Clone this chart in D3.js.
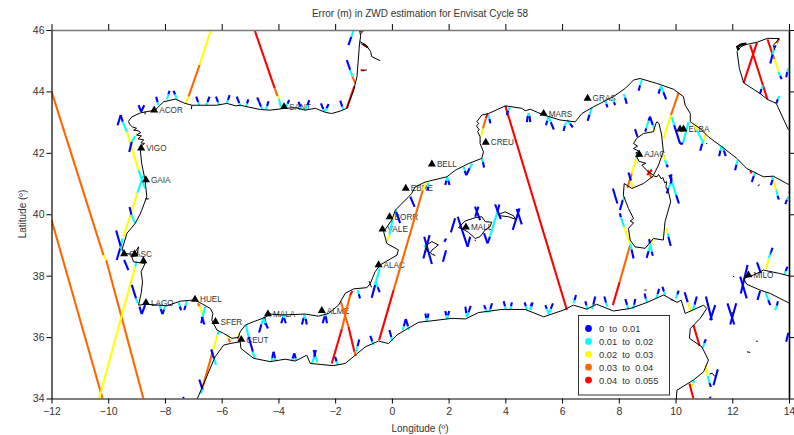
<!DOCTYPE html>
<html>
<head>
<meta charset="utf-8">
<script src="https://cdn.jsdelivr.net/npm/d3@7"></script>
<style>
    html, body { margin: 0; padding: 0; background: #fff; }
    svg { display: block; }
    text { font-family: "Liberation Sans", Arial, sans-serif; fill: #333; }
</style>
</head>
<body>
<div id="chart"></div>
<script>
// axis ticks
var lonTicks = [-12, -10, -8, -6, -4, -2, 0, 2, 4, 6, 8, 10, 12, 14];
var latTicks = [34, 36, 38, 40, 42, 44, 46];

// error classes of the legend
var classLabels = ["0  to  0.01", "0.01  to  0.02", "0.02  to  0.03", "0.03  to  0.04", "0.04  to  0.055"];
var classColors = ["#0000ff", "#00ffff", "#ffff00", "#ff6600", "#ff0000"];

// coastlines, [lon, lat]
var coastAtlantic = [[-1.14,46],[-1.1,45.8],[-1.14,45.57],[-1.23,44.48],[-1.35,44.04],[-1.59,43.45],[-1.82,43.36],[-2.12,43.28],[-2.35,43.32],[-2.7,43.45],[-3.06,43.39],[-3.4,43.47],[-3.76,43.45],[-4.29,43.39],[-4.64,43.41],[-5.35,43.55],[-5.5,43.53],[-5.82,43.61],[-6.17,43.55],[-7.05,43.55],[-7.29,43.61],[-7.64,43.75],[-8.05,43.66],[-8.35,43.39],[-8.87,43.3],[-9.17,43.17],[-9.29,43.02],[-9.22,42.9],[-9.14,42.84],[-9.0,42.8],[-9.1,42.74],[-8.95,42.72],[-8.85,42.66],[-9.0,42.58],[-8.83,42.55],[-8.95,42.46],[-8.75,42.42],[-8.85,42.33],[-8.72,42.3],[-8.88,42.2],[-8.87,42.1],[-8.82,41.65],[-8.7,41.11],[-8.64,40.57],[-8.82,40.13],[-8.88,40.0],[-9.05,39.7],[-9.34,39.38],[-9.5,38.89],[-9.46,38.73],[-9.11,38.69],[-8.93,38.94],[-8.99,38.67],[-9.17,38.62],[-9.11,38.45],[-8.7,38.4],[-8.84,38.13],[-8.79,37.8],[-8.84,37.42],[-8.93,37.04],[-8.64,37.07],[-7.93,37.02],[-7.46,37.17],[-6.94,37.21],[-6.4,36.93],[-6.31,36.77],[-6.35,36.55],[-6.17,36.23],[-5.93,36.12],[-5.64,35.96],[-5.41,35.99],[-5.35,36.17],[-5.17,36.39],[-4.88,36.5],[-4.47,36.64],[-4.29,36.75],[-3.88,36.72],[-3.06,36.75],[-2.59,36.68],[-2.23,36.77],[-1.88,37.04],[-1.65,37.42],[-1.35,37.57],[-0.88,37.61],[-0.76,37.75],[-0.59,38.13],[-0.41,38.35],[0.18,38.67],[0.23,38.84],[-0.18,39.05],[-0.29,39.43],[0,39.82],[0.12,40.13],[0.59,40.57],[0.7,40.68],[0.82,40.89],[1.18,41.05],[1.94,41.22],[2.23,41.43],[2.7,41.65],[3.17,41.82],[3.23,42.03],[3.11,42.3],[3.11,42.52],[3.02,42.7],[3.08,42.75],[2.98,42.88],[3.06,42.95],[3.0,43.02],[3.17,43.23],[3.41,43.28],[4.0,43.53],[4.58,43.45],[4.7,43.37],[4.88,43.42],[5.35,43.23],[5.93,43.07],[6.46,43.01],[6.7,43.28],[7.11,43.5],[7.81,43.83],[8.23,44.1],[8.52,44.37],[8.75,44.42],[9.34,44.26],[9.93,44.07],[10.28,43.83],[10.34,43.55],[10.52,43.28],[10.52,43.01],[10.87,42.79],[11.16,42.52],[11.63,42.2],[12.16,41.82],[12.51,41.49],[13.1,41.22],[13.45,41.24],[13.92,41.0],[14.05,40.95]];
var coastAfrica = [[-6.87,33.97],[-6.23,35.36],[-5.93,35.74],[-5.7,35.79],[-5.35,35.85],[-5.32,35.63],[-4.88,35.31],[-4.29,35.2],[-3.76,35.28],[-3.41,35.22],[-3.0,35.41],[-2.88,35.14],[-2.53,35.11],[-2.06,35.07],[-1.65,35.14],[-1.29,35.41],[-0.94,35.68],[-0.47,35.87],[-0.12,35.79],[0.18,36.07],[0.47,36.23],[0.94,36.48],[1.41,36.53],[2.12,36.61],[2.59,36.59],[3.06,36.8],[3.88,36.9],[4.7,36.9],[5.35,36.66],[6.05,36.88],[6.4,37.04],[6.87,36.91],[7.22,37.07],[7.81,36.85],[8.4,36.93],[9.0,37.13],[9.58,37.37],[10.05,37.13],[10.2,37.2],[10.34,36.77],[10.99,37.04],[11.1,36.93],[10.87,36.61],[10.52,36.28],[10.49,35.96],[10.93,35.68],[11.16,35.25],[10.99,34.87],[10.63,34.6],[10.05,34.27],[10.02,33.9]];
var coastAdriatic = [[13.55,43.61],[13.24,43.74],[12.98,43.93],[12.4,44.28],[12.25,44.75],[12.17,45.3],[12.3,45.45],[12.45,45.52],[12.87,45.6],[13.24,45.73],[13.65,45.72],[13.45,45.5],[13.5,45.35]];
var coastVenice = [[12.22,45.35],[12.18,45.45],[12.32,45.53],[12.5,45.55]];
var coastMarche = [[13.55,43.61],[13.98,42.75]];
var coastSicily = [[14.02,37.99],[13.63,38.08],[13.1,38.18],[12.75,38.02],[12.4,37.91],[12.51,37.72],[12.98,37.53],[13.34,37.42],[14.02,37.1]];
var coastGironde = [[-1.12,45.62],[-0.9,45.5],[-0.75,45.3],[-0.71,45.13],[-0.41,45.0]];
var coastGironde2 = [[-1.1,45.56],[-0.85,45.42]];
var coastCorsica = [[9.34,43.01],[9.42,42.95],[9.51,42.58],[9.57,42.04],[9.4,41.6],[9.22,41.27],[9.04,41.38],[8.81,41.6],[8.95,41.66],[8.72,41.72],[8.63,41.87],[8.82,41.92],[8.6,42.0],[8.72,42.05],[8.52,42.14],[8.66,42.22],[8.52,42.3],[8.63,42.47],[8.87,42.63],[9.22,42.69],[9.31,42.96],[9.34,43.01]];
var coastSardinia = [[9.22,41.25],[9.35,41.22],[9.4,41.3],[9.5,41.15],[9.55,41.2],[9.62,41.02],[9.69,41.06],[9.66,40.9],[9.75,40.73],[9.83,40.41],[9.63,39.76],[9.57,39.16],[9.22,39.21],[8.93,38.89],[8.57,38.94],[8.4,39.16],[8.34,39.54],[8.52,39.72],[8.4,39.78],[8.52,39.86],[8.34,40.19],[8.16,40.62],[8.19,41.0],[8.46,40.84],[8.87,41.0],[9.22,41.25]];
var coastMallorca = [[2.35,39.56],[2.58,39.78],[2.94,39.89],[3.17,39.92],[3.29,39.76],[3.52,39.74],[3.46,39.6],[3.29,39.49],[3.11,39.27],[2.94,39.21],[2.7,39.41],[2.46,39.54],[2.35,39.56]];
var coastMenorca = [[3.76,39.99],[3.99,40.08],[4.29,39.95],[4.35,39.84],[4.11,39.92],[3.82,39.95],[3.76,39.99]];
var coastIbiza = [[1.23,39.0],[1.41,39.11],[1.64,39.0],[1.41,38.83],[1.35,38.73],[1.23,38.83],[1.23,39.0]];
var coastFormentera = [[1.38,38.72],[1.53,38.65]];
var coastKerkennah = [[11.2,34.8],[11.3,34.82],[11.38,34.72]];
var coastLagoon = [[-1.14,45.95],[-1.0,45.98],[-1.1,45.87]];
var coastSmall = [[[2.92,39.15],[2.96,39.15]],[[-1.02,44.68],[-0.88,44.7]],[[11.97,36.79],[12.02,36.8]],[[12.52,35.52],[12.63,35.5]],[[12.84,35.87],[12.9,35.86]],[[12.02,37.99],[12.07,37.96]],[[8.9,37.53],[8.98,37.53]],[[9.82,37.22],[9.92,37.2]],[[13.32,38.73],[13.37,38.7]],[[11.08,42.31],[11.12,42.3]],[[12.9,40.93],[12.97,40.96]],[[13.98,40.72],[14.05,40.72]],[[-7.05,43.55],[-7.07,43.42]],[[-8.7,40.5],[-8.56,40.5]],[[-8.7,43.35],[-8.7,43.25]],[[-0.8,37.82],[-0.72,37.62]]];

// satellite track stretches with a colour class: [class, lon1, lat1, lon2, lat2]
var trackLong = [
    [3,-12,44,-10.17,38.67],[2,-10.17,38.67,-10.07,38.5],[3,-10.07,38.5,-8.76,34],
    [3,-12,39.82,-10.2,34],
    [2,-10.32,34,-9.05,38.3],[1,-9.05,38.3,-9.0,38.46],
    [2,-6.38,46,-6.78,44.86],[3,-6.78,44.86,-7.17,43.83],[2,-7.17,43.83,-7.28,43.59],
    [4,-4.84,46,-4.13,44.1],[3,-4.13,44.1,-4.03,43.85],[2,-4.03,43.85,-3.98,43.75],[1,-3.98,43.75,-3.92,43.5],
    [4,-2.12,35.14,-1.76,36.28],[3,-1.76,36.28,-1.47,37.37],[4,-1.47,37.37,-1.39,37.5],
    [3,-1.8,37.15,-1.53,36.34],[4,-1.53,36.34,-1.32,35.52],[3,-1.32,35.52,-1.27,35.39],
    [4,-0.45,35.9,0.06,37.53],[3,0.06,37.53,1.09,40.78],[2,1.09,40.78,1.21,41.05],
    [2,3.14,42.52,3.21,42.79],[3,3.21,42.79,3.31,43.12],[4,3.31,43.12,3.38,43.28],
    [4,4.0,43.53,6.17,36.88],
    [4,7.79,37.04,8.03,37.8],[3,8.03,37.8,8.4,39.0],
    [3,8.3,40.86,8.46,41.33],[2,8.46,41.33,8.61,41.82],[1,8.61,41.82,8.69,42.09],
    [2,9.58,42.47,9.84,43.23],[3,9.84,43.23,10.11,43.96],
    [4,12.4,44.28,12.87,45.59],[4,12.63,45.51,13.24,43.74],
    [4,13.24,45.7,13.43,45.18],[3,13.43,45.18,13.49,45.05],[2,13.49,45.05,13.63,44.64],[1,13.63,44.64,13.69,44.5],[0,13.69,44.5,13.74,44.4],
    [3,13.57,45.57,13.62,45.66],[4,13.62,45.66,13.65,45.73],
    [4,10.63,36.39,10.85,35.71],[4,10.49,34.49,10.63,34],
    [4,-1.59,43.45,-1.32,44.17],
    [4,-1.02,45.55,-0.85,45.43],[4,-1.1,44.7,-0.98,44.68]
];
var trackCoastal = [
    [0,-9.56,43.23,-9.49,43.01],[1,-9.49,43.01,-9.34,42.68],[2,-9.34,42.68,-8.93,41.43],[1,-8.93,41.43,-8.7,40.84],
    [0,-9.67,42.9,-9.56,43.23],
    [0,-9.26,42.03,-9.17,42.36],[1,-9.17,42.36,-9.05,42.54],
    [2,-9.46,39.27,-8.97,40.7],[1,-8.97,40.7,-8.76,41.25],
    [0,-9.7,38.51,-9.58,38.89],[1,-9.58,38.89,-9.49,39.22],
    [0,-9.25,40.24,-9.18,39.98],[1,-9.18,39.98,-9.05,39.7],
    [0,-9.72,39.47,-9.56,38.95],[1,-9.56,38.95,-9.46,38.75],[0,-9.44,38.51,-9.29,38.18],
    [0,-9.17,37.7,-9.02,37.26],[1,-9.02,37.26,-8.96,37.1],
    [3,-6.84,37.1,-6.78,37.0],[2,-6.78,37.0,-6.67,36.72],[0,-6.7,36.66,-6.61,36.41],
    [0,-6.72,36.45,-6.67,36.66],[1,-6.67,36.66,-6.58,36.99],
    [1,-6.1,36.2,-6.15,36.07],[2,-6.15,36.07,-6.32,35.52],[3,-6.32,35.52,-6.7,34.27],[1,-6.7,34.27,-6.74,34.15],
    [0,-6.79,34.62,-6.68,34.3],[1,-6.68,34.3,-6.64,34.27],
    [0,-6.37,35.6,-6.27,35.3],[1,-6.27,35.3,-6.2,35.09],
    [2,-5.8,36.04,-5.76,35.95],[3,-5.76,35.95,-5.7,35.83],
    [3,-5.44,35.93,-5.41,36.03],[2,-5.41,36.03,-5.38,36.12],
    [1,-5.15,36.39,-5.05,36.01],[0,-5.05,36.01,-4.9,35.52],[1,-4.9,35.52,-4.84,35.3],
    [0,-1.59,45.02,-1.47,44.7],[1,-1.47,44.7,-1.39,44.48],[3,-1.39,44.48,-1.29,44.26],
    [0,-1.53,45.51,-1.43,45.78],[1,-1.43,45.78,-1.35,45.98],
    [0,-0.71,37.28,-0.59,37.7],[1,-0.59,37.7,-0.43,38.24],
    [2,-0.18,39.11,-0.09,39.33],[1,-0.09,39.33,0.02,39.82],[2,0.02,39.82,0.09,40.0],[1,0.09,40.0,0.15,40.15],
    [0,0.15,40.08,0.29,39.71],
    [0,8.04,40.14,8.14,40.46],[1,8.14,40.46,8.22,40.57],
    [0,8.04,40.03,8.07,39.9],[1,8.07,39.9,8.19,39.59],[2,8.19,39.59,8.4,39.05],[1,8.4,39.05,8.45,38.85],[0,8.45,38.85,8.52,38.56],
    [0,8.34,41.36,8.43,41.09],[2,8.43,41.09,8.51,40.84],
    [0,8.93,42.69,8.97,42.8],[1,8.97,42.8,9.05,43.05],[0,9.05,43.05,9.1,43.18],[0,9.1,43.18,9.2,42.9],[1,9.2,42.9,9.25,42.78],[2,9.25,42.78,9.28,42.71],
    [3,9.02,41.44,9.16,41.17],[4,9.0,41.28,9.17,41.45],
    [2,9.54,41.98,9.63,41.76],[1,9.63,41.76,9.68,41.62],[0,9.68,41.62,9.73,41.53],
    [0,9.78,41.28,9.87,41.06],[1,9.87,41.06,10.02,40.62],[0,10.02,40.62,10.12,40.35],
    [0,9.69,40.68,9.75,40.85],[1,9.75,40.85,9.83,41.0],[0,9.83,41.0,9.86,41.2],
    [2,9.67,39.54,9.72,39.37],[1,9.72,39.37,9.75,39.27],[0,9.75,39.27,9.83,38.97],
    [0,8.98,38.58,9.05,38.8],[1,9.05,38.8,9.1,38.94],[2,9.1,38.94,9.2,39.21],
    [0,9.07,39.19,9.1,39.05],[1,9.1,39.05,9.16,38.78],[0,9.16,38.78,9.2,38.65],
    [2,10.66,42.96,10.75,42.74],[1,10.75,42.74,10.99,42.3],[0,10.87,42.07,10.94,42.3],[1,10.94,42.3,10.99,42.41],[2,10.99,42.41,11.08,42.63],
    [1,10.26,42.3,10.46,43.01],
    [4,12.63,41.43,12.68,41.33],[0,12.69,41.05,12.76,41.25],[1,12.76,41.25,12.81,41.38],
    [2,13.4,41.24,13.55,40.78],[1,13.55,40.78,13.6,40.6],[0,13.6,40.6,13.64,40.48],
    [0,13.36,40.95,13.42,41.12],[1,13.42,41.12,13.43,41.22],
    [0,10.32,37.46,10.43,37.13],[2,10.43,37.13,10.54,36.8],
    [2,13.2,38.22,13.28,38.57],[1,13.28,38.57,13.36,38.75],[0,13.36,38.75,13.42,38.91],
    [1,13.18,37.46,13.27,37.2],[0,13.27,37.2,13.34,37.04],
    [2,11.05,35.09,11.13,34.73],[1,11.13,34.73,11.2,34.5],[0,11.2,34.5,11.25,34.38],
    [2,10.58,34.38,10.62,34.5],[1,10.62,34.5,10.66,34.6],
    [1,1.14,39.0,1.26,38.78],
    [0,3.25,39.38,3.37,39.05],[0,3.37,39.05,3.46,39.27],[1,3.46,39.27,3.72,40.08],[0,3.72,40.08,3.79,40.32],
    [0,-2.76,35.58,-2.7,35.38],[1,-2.7,35.38,-2.63,35.18],[2,-2.63,35.18,-2.61,35.14],
    [2,-2.88,35.18,-2.82,35.14],[1,-2.82,35.14,-2.74,35.35],[0,-2.74,35.35,-2.68,35.58]
];
// short passes near the coast, blue with a cyan end: [lon1, lat1, lonMid, latMid, lon2, lat2]
var trackStubs = [
    [-6.9,43.83,-6.83,43.65,-6.79,43.55],[-6.43,43.83,-6.5,43.65,-6.55,43.55],[-6.2,43.83,-6.13,43.65,-6.09,43.55],
    [-5.72,43.88,-5.78,43.72,-5.82,43.61],[-5.47,43.83,-5.38,43.62,-5.33,43.52],[-5.06,43.74,-5.11,43.6,-5.15,43.5],
    [-4.68,43.66,-4.61,43.5,-4.56,43.42],[-4.35,43.68,-4.4,43.52,-4.44,43.42],
    [-8.31,43.83,-8.26,43.65,-8.23,43.55],[-7.84,44.02,-7.88,43.9,-7.93,43.74],[-7.7,44.02,-7.64,43.9,-7.58,43.74],
    [-3.62,43.72,-3.68,43.6,-3.74,43.48],[-3.29,43.66,-3.22,43.5,-3.17,43.41],[-2.91,43.72,-2.98,43.55,-3.06,43.39],
    [-2.5,43.61,-2.42,43.42,-2.37,43.34],[-2.23,43.59,-2.3,43.45,-2.37,43.34],[-1.82,43.7,-1.75,43.5,-1.7,43.41],
    [-8.09,36.75,-8.15,36.92,-8.19,37.04],[-7.43,36.88,-7.48,37.0,-7.52,37.13],[-7.32,36.88,-7.27,37.03,-7.23,37.17],
    [-8.09,36.75,-8.03,36.9,-7.99,37.02],[-4.68,36.15,-4.6,36.42,-4.53,36.61],[-4.37,36.28,-4.45,36.45,-4.53,36.61],
    [-3.9,36.45,-3.83,36.65,-3.78,36.72],[-3.74,36.45,-3.8,36.62,-3.85,36.72],[-3.17,36.41,-3.11,36.62,-3.08,36.72],[-3.0,36.41,-3.04,36.6,-3.09,36.72],
    [-2.44,36.45,-2.37,36.68,-2.33,36.77],[-2.29,36.45,-2.33,36.68,-2.37,36.77],[-1.12,37.26,-1.17,37.4,-1.2,37.53],
    [-0.43,37.46,-0.5,37.63,-0.59,37.8],[1.26,40.78,1.27,40.9,1.29,41.02],[1.88,40.95,1.92,41.1,1.95,41.22],[2.03,40.95,1.99,41.1,1.95,41.22],
    [2.62,41.27,2.57,41.42,2.53,41.54],[2.62,41.27,2.74,41.5,2.84,41.65],[3.25,41.52,3.21,41.7,3.17,41.82],
    [3.47,42.96,3.44,43.1,3.41,43.23],[4.05,43.23,4.1,43.38,4.17,43.48],[4.76,43.0,4.79,43.2,4.82,43.3],[4.88,43.0,4.85,43.2,4.82,43.3],
    [5.43,42.9,5.48,43.05,5.52,43.17],[5.71,42.76,5.6,43.0,5.52,43.17],[6.05,42.71,6.1,42.88,6.14,42.99],[6.38,42.83,6.28,42.95,6.17,43.07],
    [6.9,43.04,6.97,43.25,7.05,43.48],[7.6,43.48,7.56,43.6,7.52,43.7],[7.87,43.55,7.83,43.65,7.79,43.75],[8.28,43.6,8.22,43.8,8.17,43.91],
    [8.7,44.02,8.75,44.2,8.81,44.37],[9.4,43.93,9.45,44.08,9.49,44.17],[9.67,43.74,9.57,43.98,9.49,44.17],
    [10.16,42.3,9.95,42.9,9.87,43.17],[11.54,41.89,11.58,42.08,11.63,42.23],[11.77,41.89,11.7,42.08,11.63,42.23],
    [12.1,41.43,12.15,41.62,12.19,41.76],[13.87,40.33,13.93,40.48,13.98,40.57],[13.34,44.91,13.42,45.2,13.49,45.42],
    [13.9,44.46,13.94,44.63,13.98,44.75],[12.98,43.93,13.03,44.08,13.08,44.2],[13.55,43.61,13.61,43.75,13.67,43.85],
    [4.93,37.1,4.9,37.0,4.88,36.88],[5.41,37.04,5.46,36.92,5.53,36.75],[5.68,37.1,5.6,36.92,5.53,36.75],
    [6.49,37.37,6.44,37.2,6.4,37.1],[6.82,37.17,6.86,37.03,6.9,36.9],[7.17,37.32,7.1,37.05,7.05,36.9],[7.49,37.32,7.55,37.12,7.6,36.99],
    [8.23,37.24,8.29,37.05,8.34,36.91],[8.58,37.24,8.54,37.05,8.5,36.91],[8.91,37.42,8.95,37.25,9.0,37.13],[9.42,37.57,9.37,37.4,9.32,37.26],
    [9.54,37.64,9.59,37.48,9.64,37.35],[10.11,37.51,10.06,37.38,10.01,37.26],[10.75,37.32,10.67,37.05,10.61,36.88],
    [11.07,35.93,11.01,35.8,10.96,35.65],[13.61,37.17,13.57,37.02,13.51,36.88],[13.95,38.29,13.88,38.15,13.84,38.02],
    [-4.17,35.52,-4.22,35.32,-4.25,35.22],[-4.17,35.52,-4.12,35.32,-4.09,35.22],[-3.44,35.47,-3.5,35.3,-3.53,35.22],[-3.44,35.47,-3.39,35.3,-3.37,35.22],
    [-2.0,35.36,-1.95,35.2,-1.9,35.09],[-1.15,35.92,-1.21,35.7,-1.27,35.52],[-0.76,36.04,-0.69,35.85,-0.65,35.74],[-0.09,36.23,-0.02,36.0,0.02,35.87],
    [0.49,36.59,0.42,36.35,0.38,36.23],[0.49,36.59,0.57,36.35,0.61,36.23],[1.18,36.77,1.21,36.62,1.23,36.52],[1.29,36.77,1.26,36.62,1.23,36.52],
    [1.88,36.85,1.92,36.7,1.95,36.59],[2.02,36.85,1.98,36.7,1.95,36.59],[2.59,36.99,2.62,36.78,2.64,36.66],[2.78,37.02,2.7,36.8,2.64,36.66],
    [3.25,37.04,3.31,36.9,3.35,36.8],[3.53,37.1,3.47,36.92,3.43,36.8],[3.94,37.17,3.99,37.0,4.02,36.9],[4.23,37.13,4.2,37.0,4.17,36.9],
    [4.68,37.13,4.72,37.0,4.76,36.88],[4.96,37.13,4.92,37.0,4.88,36.88]
];
// passes that stay blue: [lon1, lat1, lon2, lat2]
var trackBlue = [
    [-8.93,43.55,-8.84,43.34],[-8.84,43.34,-8.73,43.55],[-8.9,36.99,-8.82,36.75],[-8.82,36.75,-8.7,37.04],[-7.36,34.05,-7.34,34.0],
    [-4.5,36.66,-4.45,36.4],[0.65,40.57,0.8,40.24],[1.11,38.56,1.33,39.32],[1.14,39.27,1.41,38.38],[1.8,38.45,1.91,38.83],[1.85,39.1,1.91,39.21],
    [2.08,39.41,2.23,39.87],[2.32,39.92,2.67,38.94],[2.67,38.94,2.76,39.27],[2.94,39.92,3.05,40.25],[2.93,40.25,3.11,39.81],[3.64,40.32,3.84,39.84],
    [4.26,39.49,4.5,40.19],[4.4,40.17,4.58,39.67],[7.79,40.84,7.95,40.35],[8.57,42.77,8.66,42.52],[10.16,42.3,10.26,42.3],
    [11.07,37.32,11.28,36.55],[11.22,36.55,11.4,37.04],[11.83,37.1,12.07,36.41],[11.93,36.41,12.14,37.1],[12.28,37.97,12.51,37.26],[12.3,37.42,12.54,38.35],
    [12.87,38.43,13.01,38.08],[12.89,37.21,12.98,37.5],[13.9,35.85,13.98,36.14],[11.34,34.43,11.49,34.95],[11.22,34.06,11.23,34.0],
    [13.49,45.42,13.53,45.5],[-4.75,43.8,-4.68,43.66],[9.83,41.2,9.86,41.3]
];

// GNSS stations
var stationNames = ["ACOR", "VIGO", "GAIA", "CASC", "", "", "LAGO", "HUEL", "SFER", "CEUT", "MALA", "ALME", "ALAC", "VALE", "BORR", "EBRE", "BELL", "CREU", "SANT", "MARS", "GRAS", "ELBA", "", "AJAC", "MALL", "MILO"];
var stationLons = [-8.38, -8.84, -8.67, -9.44, -9.07, -8.76, -8.67, -6.94, -6.22, -5.31, -4.37, -2.47, -0.47, -0.33, -0.08, 0.49, 1.41, 3.31, -3.8, 5.35, 6.9, 10.28, 10.16, 8.72, 2.61, 12.57];
var stationLats = [43.39, 42.15, 41.12, 38.71, 38.7, 38.48, 37.12, 37.23, 36.5, 35.92, 36.75, 36.86, 38.35, 39.51, 39.91, 40.84, 41.63, 42.34, 43.5, 43.28, 43.77, 42.77, 42.77, 41.95, 39.58, 38.02];

var width = 794, height = 435;
var margin = {top: 30, right: 5, bottom: 36.5, left: 51.5};

var svg = d3.select("#chart").append("svg").attr("width", width).attr("height", height);

var x = d3.scaleLinear().domain([-12, 14]).range([margin.left, width - margin.right]);
var y = d3.scaleLinear().domain([34, 46]).range([height - margin.bottom, margin.top]);

svg.append("clipPath").attr("id", "plot-clip").append("rect")
    .attr("x", margin.left).attr("y", margin.top)
    .attr("width", width - margin.left - margin.right)
    .attr("height", height - margin.top - margin.bottom);

var plot = svg.append("g").attr("clip-path", "url(#plot-clip)");

// station labels sit under the tracks
plot.append("g").selectAll("text")
    .data(stationNames.map(function (d, i) { return {name: d, lon: stationLons[i], lat: stationLats[i]}; }))
    .enter().append("text")
    .attr("x", function (d) { return x(d.lon) + 5; })
    .attr("y", function (d) { return y(d.lat) + 3; })
    .attr("font-size", 8.2)
    .text(function (d) { return d.name; });

// all the track pieces
var trackPieces = trackLong.concat(trackCoastal);
trackBlue.forEach(function (d) { trackPieces.push([0, d[0], d[1], d[2], d[3]]); });
trackStubs.forEach(function (d) {
    trackPieces.push([0, d[0], d[1], d[2], d[3]]);
    trackPieces.push([1, d[2], d[3], d[4], d[5]]);
});

plot.append("g").selectAll("line")
    .data(trackPieces)
    .enter().append("line")
    .attr("x1", function (d) { return x(d[1]); })
    .attr("y1", function (d) { return y(d[2]); })
    .attr("x2", function (d) { return x(d[3]); })
    .attr("y2", function (d) { return y(d[4]); })
    .attr("stroke", function (d) { return classColors[d[0]]; })
    .attr("stroke-width", 2.1);

// coastlines on top of the tracks
var coastLine = d3.line().x(function (d) { return x(d[0]); }).y(function (d) { return y(d[1]); });
var coasts = [coastAtlantic, coastAfrica, coastAdriatic, coastMarche, coastSicily, coastGironde, coastGironde2,
    coastCorsica, coastSardinia, coastMallorca, coastMenorca, coastIbiza, coastFormentera, coastKerkennah, coastLagoon].concat(coastSmall);

plot.append("g").selectAll("path")
    .data(coasts)
    .enter().append("path")
    .attr("d", coastLine)
    .attr("fill", "none")
    .attr("stroke", "#000")
    .attr("stroke-width", 1);

plot.append("path").datum(coastVenice).attr("d", coastLine)
    .attr("fill", "none").attr("stroke", "#000").attr("stroke-width", 2.5);

// station triangles
var triangle = d3.symbol().type(d3.symbolTriangle).size(28);
plot.append("g").selectAll("path")
    .data(stationLons)
    .enter().append("path")
    .attr("d", triangle)
    .attr("transform", function (d, i) { return "translate(" + x(d) + "," + y(stationLats[i]) + ")"; })
    .attr("fill", "#000");

// frame and ticks
function styleAxis(sel, color, domainWidth) {
    sel.selectAll("text").attr("font-size", 10.5).style("fill", "#333");
    sel.selectAll("line").attr("stroke", "#000");
    sel.select(".domain").attr("stroke", color).attr("stroke-width", domainWidth);
}

svg.append("g")
    .attr("transform", "translate(0," + margin.top + ")")
    .call(d3.axisTop(x).tickValues(lonTicks).tickSize(6).tickSizeOuter(0).tickFormat(""))
    .call(styleAxis, "#777", 1.6);

svg.append("g")
    .attr("transform", "translate(0," + (height - margin.bottom) + ")")
    .call(d3.axisBottom(x).tickValues(lonTicks).tickSize(5).tickSizeOuter(0).tickFormat(d3.format("d")).tickPadding(4))
    .call(styleAxis, "#000", 1.2);

svg.append("g")
    .attr("transform", "translate(" + margin.left + ",0)")
    .call(d3.axisLeft(y).tickValues(latTicks).tickSize(5).tickSizeOuter(0).tickFormat(d3.format("d")).tickPadding(2))
    .call(styleAxis, "#000", 1.2);

svg.append("g")
    .attr("transform", "translate(" + (width - margin.right) + ",0)")
    .call(d3.axisRight(y).tickValues(latTicks).tickSize(5).tickSizeOuter(0).tickFormat(""))
    .call(styleAxis, "#000", 1.6);

// titles
svg.append("text")
    .attr("x", 420).attr("y", 16.5)
    .attr("text-anchor", "middle")
    .attr("font-size", 10)
    .text("Error (m) in ZWD estimation for Envisat Cycle 58");

svg.append("text")
    .attr("x", 420).attr("y", 432)
    .attr("text-anchor", "middle")
    .attr("font-size", 10)
    .text("Longitude (º)");

svg.append("text")
    .attr("transform", "translate(26,214) rotate(-90)")
    .attr("text-anchor", "middle")
    .attr("font-size", 10)
    .text("Latitude (º)");

// legend
var legend = svg.append("g").attr("transform", "translate(578.5,315.5)");

legend.append("rect")
    .attr("width", 91).attr("height", 79.5)
    .attr("fill", "#fff")
    .attr("stroke", "#333")
    .attr("stroke-width", 1);

var legendRows = legend.selectAll("g")
    .data(classLabels)
    .enter().append("g")
    .attr("transform", function (d, i) { return "translate(0," + (13 + i * 12.9) + ")"; });

legendRows.append("circle")
    .attr("cx", 10).attr("r", 3.4)
    .attr("fill", function (d, i) { return classColors[i]; });

legendRows.append("text")
    .attr("x", 20.5).attr("y", 3.5)
    .attr("font-size", 9.3)
    .style("white-space", "pre")
    .text(function (d) { return d; });
</script>
</body>
</html>
